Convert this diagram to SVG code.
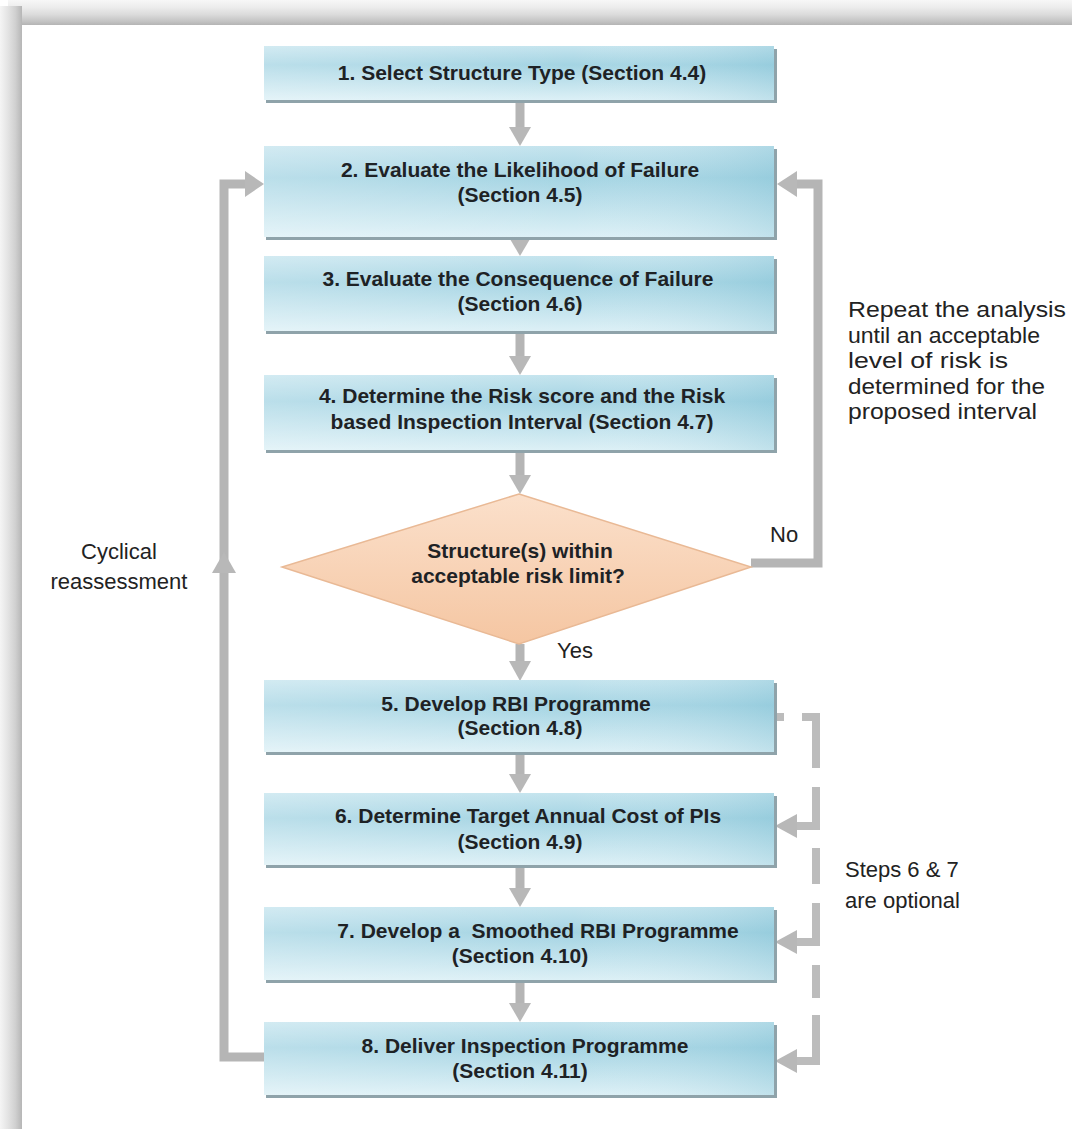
<svg xmlns="http://www.w3.org/2000/svg" width="1072" height="1129" viewBox="0 0 1072 1129">
<defs>
<linearGradient id="boxFill" x1="0" y1="0" x2="0" y2="1">
<stop offset="0" stop-color="#c4e4ee"/>
<stop offset="0.35" stop-color="#a4d4e3"/>
<stop offset="1" stop-color="#dcf0f6"/>
</linearGradient>
<linearGradient id="boxSheen" x1="0" y1="0" x2="1" y2="0">
<stop offset="0" stop-color="#ffffff" stop-opacity="0.25"/>
<stop offset="0.6" stop-color="#ffffff" stop-opacity="0"/>
<stop offset="1" stop-color="#6fb6cc" stop-opacity="0.25"/>
</linearGradient>
<linearGradient id="diaFill" x1="0" y1="0" x2="0" y2="1">
<stop offset="0" stop-color="#fbe0cb"/>
<stop offset="1" stop-color="#f5c6a2"/>
</linearGradient>
<linearGradient id="topBand" x1="0" y1="0" x2="0" y2="1">
<stop offset="0" stop-color="#f7f7f7"/>
<stop offset="0.3" stop-color="#ececec"/>
<stop offset="0.6" stop-color="#dadada"/>
<stop offset="0.85" stop-color="#c4c4c4"/>
<stop offset="1" stop-color="#b4b4b4"/>
</linearGradient>
<linearGradient id="leftBand" x1="0" y1="0" x2="1" y2="0">
<stop offset="0" stop-color="#f5f5f5"/>
<stop offset="0.35" stop-color="#e4e4e4"/>
<stop offset="0.7" stop-color="#d0d0d0"/>
<stop offset="1" stop-color="#b6b6b6"/>
</linearGradient>
<style>
.bg{fill:#ffffff}
.box{fill:url(#boxFill)}
.sheen{fill:url(#boxSheen)}
.edge{fill:#8fa3aa}
.bt{font-family:"Liberation Sans",Arial,sans-serif;font-weight:bold;font-size:21px;fill:#1e2225;text-anchor:middle}
.st{font-family:"Liberation Sans",Arial,sans-serif;font-size:22px;fill:#222222}
.dia{fill:url(#diaFill);stroke:#e9b995;stroke-width:1.5}
.con{fill:none;stroke:#b5b5b5;stroke-width:9;stroke-linejoin:miter}
.dash{fill:none;stroke:#bcbcbc;stroke-width:8;stroke-linejoin:miter}
.head{fill:#b8b8b8}
</style>
</defs>

<rect class="bg" x="0" y="0" width="1072" height="1129"/>
<rect x="8" y="0" width="1064" height="25" fill="url(#topBand)"/>
<rect x="0" y="6" width="22" height="1123" fill="url(#leftBand)"/>
<rect x="22" y="25" width="1050" height="1104" fill="#ffffff"/>

<g id="connectors">
<line class="con" x1="520" y1="100" x2="520" y2="128"/>
<polygon class="head" points="509,127 531,127 520,146"/>
<line class="con" x1="520" y1="237" x2="520" y2="240"/>
<polygon class="head" points="510,239 530,239 520,256"/>
<line class="con" x1="520" y1="331" x2="520" y2="357"/>
<polygon class="head" points="509,356 531,356 520,375"/>
<line class="con" x1="520" y1="450" x2="520" y2="476"/>
<polygon class="head" points="509,475 531,475 520,494"/>
<line class="con" x1="520" y1="644" x2="520" y2="662"/>
<polygon class="head" points="509,661 531,661 520,681"/>
<line class="con" x1="520" y1="752" x2="520" y2="775"/>
<polygon class="head" points="509,774 531,774 520,793"/>
<line class="con" x1="520" y1="865" x2="520" y2="889"/>
<polygon class="head" points="509,888 531,888 520,907"/>
<line class="con" x1="520" y1="980" x2="520" y2="1004"/>
<polygon class="head" points="509,1003 531,1003 520,1022"/>

<path class="con" d="M264,1057 H224 V184 H246"/>
<polygon class="head" points="212,573 236,573 224,552"/>
<polygon class="head" points="245,171 245,197 264,184"/>

<path class="con" d="M751,563 H818 V184 H796"/>
<polygon class="head" points="797,171 797,197 777,184"/>

<line class="dash" x1="775" y1="717" x2="784" y2="717"/>
<path class="dash" d="M802,717 H816 V768"/>
<path class="dash" d="M816,787 V826 H796"/>
<polygon class="head" points="797,814 797,838 775,826"/>
<line class="dash" x1="816" y1="848" x2="816" y2="884"/>
<path class="dash" d="M816,903 V942 H796"/>
<polygon class="head" points="797,930 797,954 775,942"/>
<line class="dash" x1="816" y1="965" x2="816" y2="998"/>
<path class="dash" d="M816,1015 V1061 H796"/>
<polygon class="head" points="797,1049 797,1073 775,1061"/>
</g>

<g id="n1">
<rect class="edge" x="266" y="49" width="511" height="54"/>
<rect class="box" x="264" y="46" width="510" height="54"/>
<rect class="sheen" x="264" y="46" width="510" height="54"/>
<text class="bt" x="522" y="80">1. Select Structure Type (Section 4.4)</text>
</g>
<g id="n2">
<rect class="edge" x="266" y="149" width="511" height="91"/>
<rect class="box" x="264" y="146" width="510" height="91"/>
<rect class="sheen" x="264" y="146" width="510" height="91"/>
<text class="bt" x="520" y="177">2. Evaluate the Likelihood of Failure</text>
<text class="bt" x="520" y="202">(Section 4.5)</text>
</g>
<g id="n3">
<rect class="edge" x="266" y="259" width="511" height="75"/>
<rect class="box" x="264" y="256" width="510" height="75"/>
<rect class="sheen" x="264" y="256" width="510" height="75"/>
<text class="bt" x="518" y="286">3. Evaluate the Consequence of Failure</text>
<text class="bt" x="520" y="311">(Section 4.6)</text>
</g>
<g id="n4">
<rect class="edge" x="266" y="378" width="511" height="75"/>
<rect class="box" x="264" y="375" width="510" height="75"/>
<rect class="sheen" x="264" y="375" width="510" height="75"/>
<text class="bt" x="522" y="403">4. Determine the Risk score and the Risk</text>
<text class="bt" x="522" y="429">based Inspection Interval (Section 4.7)</text>
</g>
<g id="decision">
<polygon class="dia" points="519,494 751,567 519,644 282,567"/>
<text class="bt" x="520" y="558">Structure(s) within</text>
<text class="bt" x="518" y="583">acceptable risk limit?</text>
</g>
<g id="n5">
<rect class="edge" x="266" y="683" width="511" height="72"/>
<rect class="box" x="264" y="680" width="510" height="72"/>
<rect class="sheen" x="264" y="680" width="510" height="72"/>
<text class="bt" x="516" y="711">5. Develop RBI Programme</text>
<text class="bt" x="520" y="735">(Section 4.8)</text>
</g>
<g id="n6">
<rect class="edge" x="266" y="796" width="511" height="72"/>
<rect class="box" x="264" y="793" width="510" height="72"/>
<rect class="sheen" x="264" y="793" width="510" height="72"/>
<text class="bt" x="528" y="823">6. Determine Target Annual Cost of PIs</text>
<text class="bt" x="520" y="849">(Section 4.9)</text>
</g>
<g id="n7">
<rect class="edge" x="266" y="910" width="511" height="73"/>
<rect class="box" x="264" y="907" width="510" height="73"/>
<rect class="sheen" x="264" y="907" width="510" height="73"/>
<text class="bt" x="538" y="938" xml:space="preserve">7. Develop a  Smoothed RBI Programme</text>
<text class="bt" x="520" y="963">(Section 4.10)</text>
</g>
<g id="n8">
<rect class="edge" x="266" y="1025" width="511" height="73"/>
<rect class="box" x="264" y="1022" width="510" height="73"/>
<rect class="sheen" x="264" y="1022" width="510" height="73"/>
<text class="bt" x="525" y="1053">8. Deliver Inspection Programme</text>
<text class="bt" x="520" y="1078">(Section 4.11)</text>
</g>

<g id="labels">
<text class="st" x="848" y="317" textLength="218" lengthAdjust="spacingAndGlyphs">Repeat the analysis</text>
<text class="st" x="848" y="343" textLength="192" lengthAdjust="spacingAndGlyphs">until an acceptable</text>
<text class="st" x="848" y="368" textLength="160" lengthAdjust="spacingAndGlyphs">level of risk is</text>
<text class="st" x="848" y="394" textLength="197" lengthAdjust="spacingAndGlyphs">determined for the</text>
<text class="st" x="848" y="419" textLength="189" lengthAdjust="spacingAndGlyphs">proposed interval</text>
<text class="st" x="770" y="542">No</text>
<text class="st" x="557" y="658">Yes</text>
<text class="st" x="119" y="559" text-anchor="middle">Cyclical</text>
<text class="st" x="119" y="589" text-anchor="middle">reassessment</text>
<text class="st" x="845" y="877">Steps 6 &amp; 7</text>
<text class="st" x="845" y="908">are optional</text>
</g>
</svg>
